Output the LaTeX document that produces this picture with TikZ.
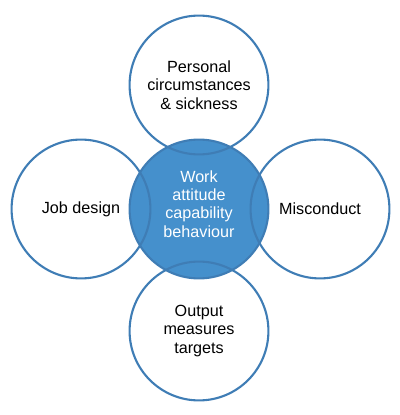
\documentclass[tikz,border=0pt]{standalone}
\usepackage{fontspec}
\setmainfont{Liberation Sans}
\usetikzlibrary{positioning}
\definecolor{ringblue}{HTML}{3F7DB5}
\definecolor{coreblue}{HTML}{4590CC}

\begin{document}
\begin{tikzpicture}[x=0.025cm, y=-0.025cm,
    ring/.style={circle, draw=ringblue, line width=1.5pt, minimum size=3.47cm, inner sep=0pt, align=center, font=\fontsize{11.5}{13}\selectfont},
    core/.style={ring, fill=coreblue},
    lbl/.style={align=center, font=\fontsize{11.5}{13}\selectfont, text=white}
]
\useasboundingbox (0,0) rectangle (400,415);
% filled centre first, outer rings drawn over it
\node[core] (core) at (199,209) {};
\node[lbl] (coretext) at (199,204) {Work\\attitude\\capability\\behaviour};
\node[ring] (personal) at (199,85) {Personal\\circumstances\\\& sickness};
\node[ring] (job) at (81,209) {Job design};
\node[ring] (misc) at (320,209) {Misconduct};
\node[ring] (output) at (199,331) {Output\\measures\\targets};
\end{tikzpicture}
\end{document}
